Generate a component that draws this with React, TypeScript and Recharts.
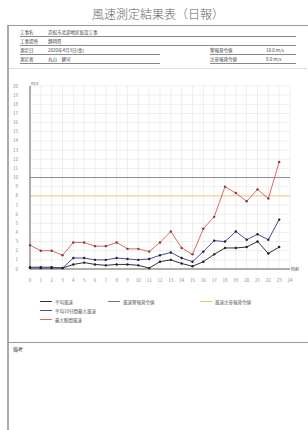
import { CartesianGrid, Line, LineChart, ReferenceLine, XAxis, YAxis } from "recharts"

const hours = [0, 1, 2, 3, 4, 5, 6, 7, 8, 9, 10, 11, 12, 13, 14, 15, 16, 17, 18, 19, 20, 21, 22, 23]
const maxGust = [2.6, 2.0, 2.0, 1.5, 2.9, 2.9, 2.5, 2.5, 2.9, 2.2, 2.2, 1.9, 2.9, 4.1, 2.3, 1.6, 4.4, 5.7, 9.0, 8.3, 7.4, 8.7, 7.7, 11.7]
const max10min = [0.2, 0.2, 0.2, 0.1, 1.2, 1.2, 1.0, 1.0, 1.2, 1.1, 1.0, 1.1, 1.5, 1.8, 1.2, 0.8, 1.9, 3.1, 3.0, 4.1, 3.2, 3.8, 3.2, 5.4]
const average = [0.1, 0.1, 0.1, 0.1, 0.5, 0.7, 0.5, 0.4, 0.5, 0.5, 0.4, 0.1, 0.8, 1.0, 0.6, 0.3, 0.8, 1.6, 2.3, 2.3, 2.4, 3.0, 1.7, 2.4]
const xTicks = [0, 1, 2, 3, 4, 5, 6, 7, 8, 9, 10, 11, 12, 13, 14, 15, 16, 17, 18, 19, 20, 21, 22, 23, 24]
const yTicks = [0, 1, 2, 3, 4, 5, 6, 7, 8, 9, 10, 11, 12, 13, 14, 15, 16, 17, 18, 19, 20]
const warningLevel = 10
const cautionLevel = 8

const data = hours.map((h, i) => ({
  hour: h,
  average: average[i],
  max10min: max10min[i],
  maxGust: maxGust[i],
}))

// legend is laid out like the form: three on the first row, then two stacked under the first
const legendItems = [
  { label: "平均風速", color: "#333", left: 40, top: 298 },
  { label: "風速警報発令値", color: "#777", left: 108, top: 298 },
  { label: "風速注意報発令値", color: "#e8c85a", left: 200, top: 298 },
  { label: "平均10分間最大風速", color: "#4a4aa8", left: 40, top: 307 },
  { label: "最大瞬間風速", color: "#d96a6a", left: 40, top: 316 },
]

const font = '"Noto Sans CJK JP", sans-serif'
const tick = { fill: "#888", fontSize: 4.5 }

const Row = ({ top, left, width, labelWidth, label, value }: { top: number; left: number; width: number; labelWidth: number; label: string; value: string }) => (
  <div
    style={{
      position: "absolute",
      top,
      left,
      width,
      height: 8,
      borderBottom: "1px solid #888",
      fontSize: 4.5,
      lineHeight: "8px",
      color: "#444",
      display: "flex",
      whiteSpace: "nowrap",
    }}
  >
    <span style={{ width: labelWidth }}>{label}</span>
    <span>{value}</span>
  </div>
)

const App = () => {
  return (
    <div
      style={{
        position: "fixed",
        left: 0,
        top: 0,
        width: 308,
        height: 430,
        background: "#fff",
        fontFamily: font,
        overflow: "hidden",
      }}
    >
      <div style={{ position: "absolute", top: 5, left: 0, width: 316, textAlign: "center", fontSize: 12, fontWeight: 300, color: "#666" }}>
        風速測定結果表（日報）
      </div>
      <div style={{ position: "absolute", top: 25, left: 7, width: 300, height: 420, border: "1px solid #999", borderLeft: "2px solid #aaa" }} />
      <Row top={28} left={20} width={276} labelWidth={28} label="工事名" value="浜松市北部地区仮設工事" />
      <Row top={37} left={20} width={276} labelWidth={28} label="工事場所" value="静岡県" />
      <Row top={46} left={20} width={140} labelWidth={28} label="測定日" value="2020年4月3日(金)" />
      <Row top={55} left={20} width={140} labelWidth={28} label="測定者" value="丸山　健司" />
      <Row top={46} left={210} width={86} labelWidth={56} label="警報発令値" value="10.0 m/s" />
      <Row top={55} left={210} width={86} labelWidth={56} label="注意報発令値" value="8.0 m/s" />
      <div style={{ position: "absolute", top: 68, left: 9, width: 298, borderTop: "1px solid #ddd" }} />

      <div style={{ position: "absolute", top: 76, left: 0 }}>
        <LineChart width={308} height={215} data={data} margin={{ top: 10, right: 18, bottom: 8, left: 0 }}>
          <CartesianGrid stroke="#e2e2e2" strokeWidth={0.6} />
          <XAxis
            dataKey="hour"
            type="number"
            domain={[0, 24]}
            ticks={xTicks}
            interval={0}
            tick={tick}
            tickLine={false}
            tickMargin={4}
            axisLine={{ stroke: "#666" }}
            height={14}
          />
          <YAxis
            domain={[0, 20]}
            ticks={yTicks}
            interval={0}
            tick={tick}
            tickLine={false}
            tickMargin={6}
            axisLine={{ stroke: "#666" }}
            width={30}
          />
          <ReferenceLine y={warningLevel} stroke="#777" strokeWidth={0.8} />
          <ReferenceLine y={cautionLevel} stroke="#e8c85a" strokeWidth={0.8} />
          <Line dataKey="maxGust" stroke="#d96a6a" strokeWidth={1} dot={{ r: 1.2, fill: "#8a3a3a", stroke: "none" }} isAnimationActive={false} />
          <Line dataKey="max10min" stroke="#4a4aa8" strokeWidth={1} dot={{ r: 1.2, fill: "#222", stroke: "none" }} isAnimationActive={false} />
          <Line dataKey="average" stroke="#333" strokeWidth={1} dot={{ r: 1.2, fill: "#222", stroke: "none" }} isAnimationActive={false} />
        </LineChart>
      </div>
      <div style={{ position: "absolute", top: 80, left: 31, fontSize: 4, color: "#555" }}>m/s</div>
      <div style={{ position: "absolute", top: 266, left: 291, fontSize: 4, color: "#555" }}>時刻</div>

      {legendItems.map((item) => (
        <div
          key={item.label}
          style={{ position: "absolute", left: item.left, top: item.top, display: "flex", alignItems: "center", height: 7, fontSize: 4.5, color: "#555", whiteSpace: "nowrap" }}
        >
          <span style={{ display: "inline-block", width: 12, borderTop: `1px solid ${item.color}`, marginRight: 3 }} />
          {item.label}
        </div>
      ))}

      <div style={{ position: "absolute", top: 342, left: 8, width: 300, borderTop: "1px solid #999" }} />
      <div style={{ position: "absolute", top: 345, left: 13, fontSize: 5, color: "#444" }}>備考</div>
    </div>
  )
}

export default App
